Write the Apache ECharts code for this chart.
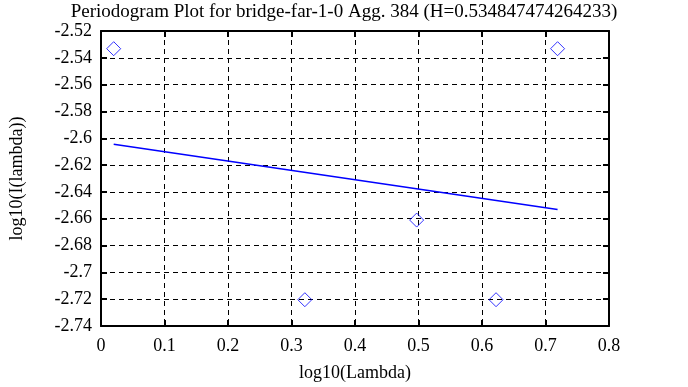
<!DOCTYPE html>
<html><head><meta charset="utf-8">
<script src="https://cdn.jsdelivr.net/npm/echarts@6/dist/echarts.min.js"></script>
<style>html,body{margin:0;padding:0;background:#fff}#c{width:688px;height:387px}</style>
</head><body><div id="c"></div>
<script>
const titleText = "Periodogram Plot for bridge-far-1-0 Agg. 384 (H=0.534847474264233)";
const xName = "log10(Lambda)";
const yName = "log10(I(lambda))";
const pointX = [0.0200, 0.3210, 0.4971, 0.6221, 0.7190];
const pointY = [-2.5332, -2.7204, -2.6610, -2.7204, -2.5332];
const fitX = [0.0200, 0.7190];
const fitY = [-2.6045, -2.6532];
const xTicks = [0, 0.1, 0.2, 0.3, 0.4, 0.5, 0.6, 0.7, 0.8];
const yTicks = [-2.74, -2.72, -2.7, -2.68, -2.66, -2.64, -2.62, -2.6, -2.58, -2.56, -2.54, -2.52];

const font = "Liberation Serif";
const fs = 18;
const chart = echarts.init(document.getElementById('c'), null, {renderer: 'canvas'});
const pts = pointX.map((x, i) => [x, pointY[i]]);
const fit = fitX.map((x, i) => [x, fitY[i]]);
const fmtY = v => String(Math.round(v * 100) / 100);
const fmtX = v => String(Math.round(v * 10) / 10);
const baseX = {
  type: 'value', min: xTicks[0], max: xTicks[xTicks.length - 1], interval: 0.1,
  axisLine: {show: true, onZero: false, lineStyle: {color: '#000', width: 2}},
  axisTick: {show: true, inside: true, length: 6, lineStyle: {color: '#000', width: 2}},
};
const baseY = {
  type: 'value', min: yTicks[0], max: yTicks[yTicks.length - 1], interval: 0.02,
  axisLine: {show: true, onZero: false, lineStyle: {color: '#000', width: 2}},
  axisTick: {show: true, inside: true, length: 6, lineStyle: {color: '#000', width: 2}},
};
chart.setOption({
  animation: false,
  backgroundColor: '#fff',
  title: {text: titleText, left: 'center', top: -2,
    textStyle: {fontFamily: font, fontSize: 19, fontWeight: 'normal', color: '#000'}},
  grid: {left: 92, right: 79, top: 31, bottom: 56},
  xAxis: [
    Object.assign({}, baseX, {
      position: 'bottom', name: xName, nameLocation: 'middle', nameGap: 38,
      nameTextStyle: {fontFamily: font, fontSize: fs, color: '#000'},
      axisLabel: {fontFamily: font, fontSize: fs, color: '#000', margin: 11, formatter: fmtX},
      splitLine: {show: true, lineStyle: {color: '#000', width: 1, type: [5, 4]}}
    }),
    Object.assign({}, baseX, {position: 'top', axisLabel: {show: false}, splitLine: {show: false}})
  ],
  yAxis: [
    Object.assign({}, baseY, {
      position: 'left', name: yName, nameLocation: 'middle', nameGap: 75, nameRotate: 90,
      nameTextStyle: {fontFamily: font, fontSize: fs, color: '#000'},
      axisLabel: {fontFamily: font, fontSize: fs, color: '#000', margin: 9, formatter: fmtY},
      splitLine: {show: true, lineStyle: {color: '#000', width: 1, type: [5, 4]}}
    }),
    Object.assign({}, baseY, {position: 'right', axisLabel: {show: false}, splitLine: {show: false}})
  ],
  series: [
    {type: 'scatter', data: pts, symbol: 'diamond', symbolSize: [14, 14],
      itemStyle: {color: 'rgba(0,0,0,0)', borderColor: '#0000ff', borderWidth: 1}, z: 5},
    {type: 'line', data: fit, showSymbol: false, symbol: 'none',
      lineStyle: {color: '#0000ff', width: 1.5}, z: 4}
  ]
});
</script></body></html>
